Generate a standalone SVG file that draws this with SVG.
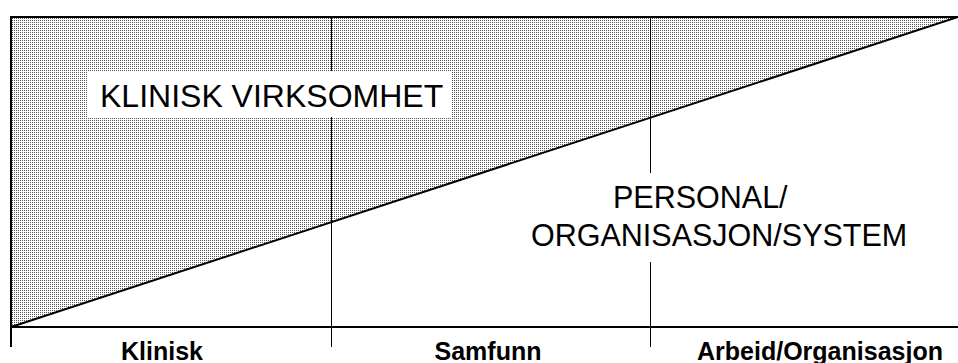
<svg xmlns="http://www.w3.org/2000/svg" width="958" height="363" viewBox="0 0 958 363">
  <style>
    .frame { stroke: #000; stroke-width: 2; fill: none; }
    .divider { stroke: #000; stroke-width: 1; fill: none; }
    .label { font-family: "Liberation Sans", Arial, sans-serif; fill: #000; }
    .area { font-size: 32px; }
    .area2 { font-size: 30.5px; }
    .axis { font-size: 25px; font-weight: bold; text-anchor: middle; }
  </style>
  <defs>
    <pattern id="dither" width="2" height="2" patternUnits="userSpaceOnUse">
      <rect width="2" height="2" fill="#fff"/>
      <rect width="1" height="1" fill="#555"/>
    </pattern>
  </defs>
  <rect width="958" height="363" fill="#fff"/>

  <!-- shaded upper-left triangle -->
  <g id="clinical-area">
    <polygon points="11,17 958,17 11,327" fill="url(#dither)"/>
  </g>

  <!-- connectors / grid lines -->
  <g id="lines">
    <line class="divider" x1="331.5" y1="17" x2="331.5" y2="347"/>
    <line class="divider" x1="650.5" y1="17" x2="650.5" y2="347"/>
    <line class="frame" x1="11" y1="17" x2="958" y2="17"/>
    <line class="frame" x1="11" y1="16" x2="11" y2="347"/>
    <line class="frame" x1="10" y1="327" x2="958" y2="327"/>
    <line class="frame" x1="11" y1="327" x2="958" y2="17"/>
  </g>

  <g id="klinisk-virksomhet">
    <rect x="88" y="71" width="364" height="46" fill="#fff"/>
    <text class="label area" x="100" y="107">KLINISK VIRKSOMHET</text>
  </g>

  <g id="personal-organisasjon">
    <rect x="528" y="173" width="380" height="89" fill="#fff"/>
    <text class="label area2" x="613" y="208">PERSONAL/</text>
    <text class="label area2" x="531" y="246">ORGANISASJON/SYSTEM</text>
  </g>

  <g id="axis-klinisk">
    <text class="label axis" x="162" y="360">Klinisk</text>
  </g>
  <g id="axis-samfunn">
    <text class="label axis" x="488" y="360">Samfunn</text>
  </g>
  <g id="axis-arbeid">
    <text class="label axis" x="820" y="360">Arbeid/Organisasjon</text>
  </g>
</svg>
